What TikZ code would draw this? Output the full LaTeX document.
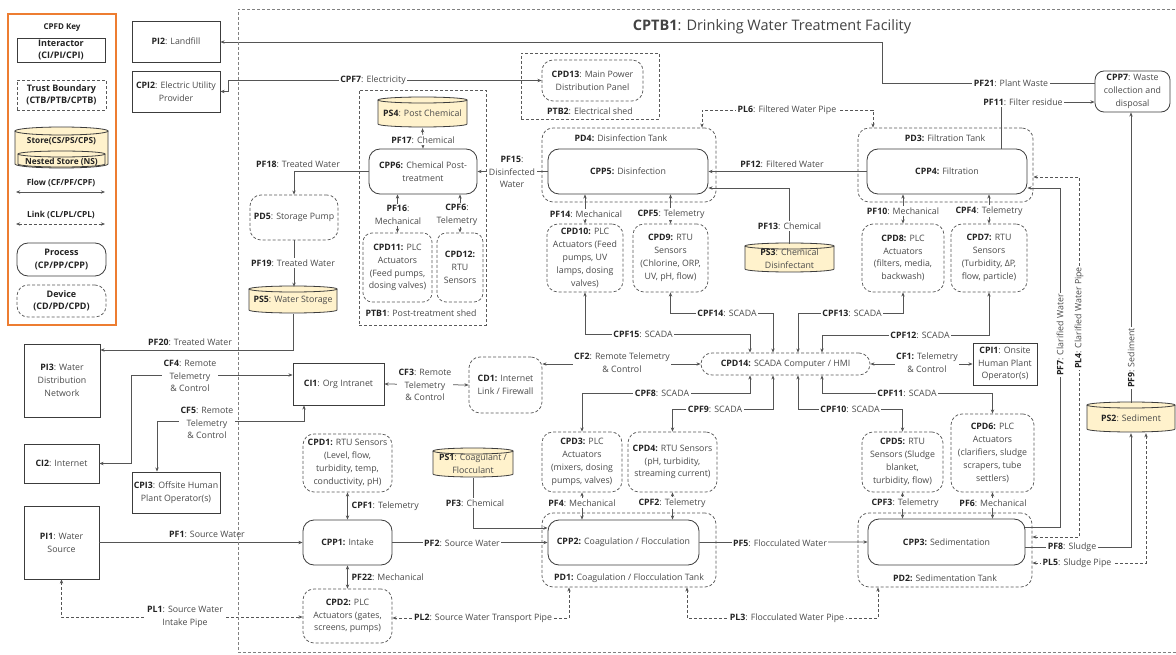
\documentclass[tikz,border=0pt]{standalone}
\usepackage{fontspec}
\setmainfont{Open Sans}
\usetikzlibrary{arrows.meta}
\definecolor{linec}{HTML}{555555}
\definecolor{boxc}{HTML}{3C3C3C}
\definecolor{devc}{HTML}{5A5A5A}
\definecolor{txtc}{HTML}{4A4A4A}
\definecolor{boldc}{HTML}{222222}
\definecolor{keyorange}{HTML}{ED7D31}
\definecolor{storefill}{HTML}{FFF2CC}
\newcommand{\idb}[1]{\textbf{\color{boldc}#1}}
\newcommand{\fsn}{\fontsize{8.8}{12.8}\selectfont}
\newcommand{\fsk}{\fontsize{9}{12.5}\selectfont\bfseries}
\newcommand{\mkstore}[6]{%
  \draw[draw=boxc, line width=0.8pt, fill=storefill] ({#2-#4/2},#3) -- ({#2-#4/2},#5) arc[start angle=180,end angle=0,x radius=#4/2,y radius=3] -- ({#2+#4/2},#3);
  \draw[draw=boxc, line width=0.8pt, fill=storefill] (#2,#3) ellipse[x radius=#4/2, y radius=3];
  \node[base, minimum width=#4, minimum height={#5-#3+6}] (#1) at (#2,{(#3+#5)/2+1}) {#6};
}
\begin{document}
\begin{tikzpicture}[x=1pt,y=-1pt,
  >={Stealth[length=4.2pt,width=3.4pt]},
  base/.style={font=\fsn, text=txtc, align=center, inner sep=0pt},
  inter/.style={base, draw=boxc, line width=0.8pt, rectangle},
  proc/.style={base, draw=boxc, line width=0.8pt, rounded corners=11pt},
  dev/.style={base, draw=devc, line width=0.75pt, dash pattern=on 3pt off 2pt, rounded corners=11pt},
  tbox/.style={draw=devc, line width=0.75pt, dash pattern=on 3pt off 2pt, inner sep=0pt},
  lbl/.style={font=\fsn, text=txtc, align=center, inner sep=1.5pt},
  lblw/.style={lbl, fill=white},
  flow/.style={draw=linec, line width=0.75pt},
  link/.style={flow, dash pattern=on 3pt off 2pt},
  keyt/.style={font=\fsk, text=boldc, align=center, inner sep=0pt}]
\useasboundingbox (0,0) rectangle (1176,655);
\fill[white] (0,0) rectangle (1176,655);
\clip (0,0) rectangle (1176,655);

% ---------- Key ----------
\node[draw=keyorange, line width=2.5pt, minimum width=108pt, minimum height=311pt, inner sep=0pt] (key) at (62,169.5) {};
\node[keyt, font=\fontsize{8}{10}\selectfont\bfseries] (keytitle) at (62,28) {CPFD Key};
\node[keyt, draw=boxc, line width=0.8pt, minimum width=88pt, minimum height=24pt] (kI) at (61,50) {Interactor\\(CI/PI/CPI)};
\node[keyt, tbox, minimum width=89pt, minimum height=30pt] (kT) at (61.5,95) {Trust Boundary\\(CTB/PTB/CPTB)};
\draw[draw=boxc, line width=0.8pt, fill=storefill] (15,131) -- (15,164) arc[start angle=180,end angle=0,x radius=46.5,y radius=4] -- (108,131);
\draw[draw=boxc, line width=0.8pt, fill=storefill] (61.5,131) ellipse[x radius=46.5, y radius=4];
\draw[draw=boxc, line width=0.8pt, fill=storefill] (18,154) -- (18,164) arc[start angle=180,end angle=0,x radius=43.5,y radius=3] -- (105,154);
\draw[draw=boxc, line width=0.8pt, fill=storefill] (61.5,154) ellipse[x radius=43.5, y radius=3];
\node[keyt, font=\fontsize{8.3}{10}\selectfont\bfseries] (kS) at (61.5,141) {Store(CS/PS/CPS)};
\node[keyt, font=\fontsize{8.3}{10}\selectfont\bfseries] (kNS) at (61.5,162) {Nested Store (NS)};
\node[keyt, font=\fontsize{8.3}{10}\selectfont\bfseries] (kF) at (61,183) {Flow (CF/PF/CPF)};
\coordinate (kf1) at (16,192);
\coordinate (kf2) at (105,192);
\draw[flow,<->] (kf1) -- (kf2);
\node[keyt, font=\fontsize{8.3}{10}\selectfont\bfseries] (kL) at (61,215) {Link (CL/PL/CPL)};
\coordinate (kl1) at (16,224);
\coordinate (kl2) at (105,224);
\draw[link,<->] (kl1) -- (kl2);
\node[keyt, draw=boxc, line width=0.8pt, rounded corners=11pt, minimum width=89pt, minimum height=33pt] (kP) at (61.5,259.5) {Process\\(CP/PP/CPP)};
\node[keyt, draw=devc, line width=0.75pt, dash pattern=on 3pt off 2pt, rounded corners=11pt, minimum width=89pt, minimum height=32pt] (kD) at (61.5,301) {Device\\(CD/PD/CPD)};

% ---------- Interactors ----------
\node[inter, minimum width=88pt, minimum height=41pt] (PI2) at (176,41.5) {\idb{PI2}: Landfill};
\node[inter, minimum width=88pt, minimum height=41pt] (CPI2) at (176,91.5) {\idb{CPI2}: Electric Utility\\Provider};
\node[inter, minimum width=76pt, minimum height=73pt] (PI3) at (62,380.5) {\idb{PI3}: Water\\Distribution\\Network};
\node[inter, minimum width=75pt, minimum height=39pt] (CI2) at (61.5,463.5) {\idb{CI2}: Internet};
\node[inter, minimum width=88pt, minimum height=41pt] (CPI3) at (176,492.5) {\idb{CPI3}: Offsite Human\\Plant Operator(s)};
\node[inter, minimum width=75pt, minimum height=73pt] (PI1) at (61.5,542.5) {\idb{PI1}: Water\\Source};
\node[inter, minimum width=91pt, minimum height=42pt] (CI1) at (338.5,384) {\idb{CI1}: Org Intranet};
\node[inter, minimum width=64pt, minimum height=42pt] (CPI1) at (1005,364) {\idb{CPI1}: Onsite\\Human Plant\\Operator(s)};

% ---------- Trust boundaries ----------
\node[tbox, minimum width=138pt, minimum height=66pt] (PTB2) at (590,86) {};
\node[tbox, minimum width=127pt, minimum height=235pt] (PTB1) at (422.5,207.5) {};
\node[lbl] (PTB2l) at (590,111) {\idb{PTB2}: Electrical shed};
\node[lbl] (PTB1l) at (421,313) {\idb{PTB1}: Post-treatment shed};

% ---------- Devices ----------
\node[dev, minimum width=174pt, minimum height=74pt] (PD4) at (629,165) {};
\node[dev, minimum width=175pt, minimum height=74pt] (PD3) at (945.5,165) {};
\node[dev, minimum width=174pt, minimum height=74pt] (PD1) at (629,550) {};
\node[dev, minimum width=174pt, minimum height=74pt] (PD2) at (945,550) {};
\node[lbl] (PD4l) at (621,138) {\idb{PD4:} Disinfection Tank};
\node[lbl] (PD3l) at (945,138) {\idb{PD3:} Filtration Tank};
\node[lbl] (PD1l) at (629,578) {\idb{PD1:} Coagulation / Flocculation Tank};
\node[lbl] (PD2l) at (945,578) {\idb{PD2:} Sedimentation Tank};
\node[dev, minimum width=101pt, minimum height=41pt] (CPD13) at (592.5,80.5) {\idb{CPD13}: Main Power\\Distribution Panel};
\node[dev, minimum width=88pt, minimum height=45pt] (PD5) at (294,217.5) {\idb{PD5}: Storage Pump};
\node[dev, rounded corners=9pt, minimum width=69pt, minimum height=69pt] (CPD11) at (397.5,267.5) {\idb{CPD11:} PLC\\Actuators\\(Feed pumps,\\dosing valves)};
\node[dev, rounded corners=9pt, minimum width=46pt, minimum height=69pt] (CPD12) at (460,267.5) {\idb{CPD12:}\\RTU\\Sensors};
\node[dev, minimum width=76pt, minimum height=68pt] (CPD10) at (585,258) {\idb{CPD10:} PLC\\Actuators (Feed\\pumps, UV\\lamps, dosing\\valves)};
\node[dev, minimum width=75pt, minimum height=68pt] (CPD9) at (670.5,258) {\idb{CPD9:} RTU\\Sensors\\(Chlorine, ORP,\\UV, pH, flow)};
\node[dev, minimum width=82pt, minimum height=68pt] (CPD8) at (903,258) {\idb{CPD8:} PLC\\Actuators\\(filters, media,\\backwash)};
\node[dev, minimum width=76pt, minimum height=68pt] (CPD7) at (989,258) {\idb{CPD7:} RTU\\Sensors\\(Turbidity, ΔP,\\flow, particle)};
\node[dev, minimum width=73pt, minimum height=56pt] (CD1) at (505.5,385) {\idb{CD1:} Internet\\Link / Firewall};
\node[dev, minimum width=169pt, minimum height=22pt] (CPD14) at (785.5,364) {\idb{CPD14:} SCADA Computer / HMI};
\node[dev, minimum width=89pt, minimum height=58pt] (CPD1) at (347.5,463) {\idb{CPD1:} RTU Sensors\\(Level, flow,\\turbidity, temp,\\conductivity, pH)};
\node[dev, minimum width=80pt, minimum height=60pt] (CPD3) at (582,462) {\idb{CPD3:} PLC\\Actuators\\(mixers, dosing\\pumps, valves)};
\node[dev, minimum width=89pt, minimum height=60pt] (CPD4) at (672.5,462) {\idb{CPD4:} RTU Sensors\\(pH, turbidity,\\streaming current)};
\node[dev, minimum width=81pt, minimum height=60pt] (CPD5) at (902.5,462) {\idb{CPD5:} RTU\\Sensors (Sludge\\blanket,\\turbidity, flow)};
\node[dev, minimum width=83pt, minimum height=78pt] (CPD6) at (992.5,453) {\idb{CPD6:} PLC\\Actuators\\(clarifiers, sludge\\scrapers, tube\\settlers)};
\node[dev, minimum width=89pt, minimum height=54pt] (CPD2) at (347.5,616) {\idb{CPD2:} PLC\\Actuators (gates,\\screens, pumps)};

% ---------- Processes ----------
\node[proc, fill=white, minimum width=108pt, minimum height=45pt] (CPP6) at (423,171.5) {\idb{CPP6:} Chemical Post-\\treatment};
\node[proc, fill=white, minimum width=160pt, minimum height=45pt] (CPP5) at (628,171.5) {\idb{CPP5:} Disinfection};
\node[proc, fill=white, minimum width=160pt, minimum height=45pt] (CPP4) at (947,171.5) {\idb{CPP4:} Filtration};
\node[proc, rounded corners=9pt, minimum width=75pt, minimum height=41pt] (CPP7) at (1132.5,91.5) {\idb{CPP7}: Waste\\collection and\\disposal};
\node[proc, fill=white, minimum width=89pt, minimum height=45pt] (CPP1) at (347.5,542.5) {\idb{CPP1:} Intake};
\node[proc, fill=white, minimum width=151pt, minimum height=45pt] (CPP2) at (623.5,542.5) {\idb{CPP2:} Coagulation / Flocculation};
\node[proc, fill=white, minimum width=157pt, minimum height=46pt] (CPP3) at (946.5,542) {\idb{CPP3:} Sedimentation};

% ---------- Stores ----------
\mkstore{PS4}{422.5}{100}{89}{124}{\idb{PS4}: Post Chemical}
\mkstore{PS5}{293}{289}{88}{310}{\idb{PS5}: Water Storage}
\mkstore{PS3}{789.5}{246}{89}{269}{\idb{PS3}: Chemical\\Disinfectant}
\mkstore{PS1}{473}{451}{80}{474}{\idb{PS1}: Coagulant /\\Flocculant}
\mkstore{PS2}{1131}{405}{88}{429}{\idb{PS2}: Sediment}

% ---------- Connectors ----------
\draw[flow,->] (CPP7.west |- 0,83) -- (882,83) -- (882,42) -- (PI2.east |- 0,42);
\draw[flow,<->] (CPI2.east) -- (228,91.5) -- (228,80.5) -- (CPD13.west);
\draw[flow,<->] (CPP6.north) -- (PS4.south);
\draw[flow,->] (CPP6.west) -| (PD5.north);
\draw[flow,->] (PD5.south) -- (PD5.south |- PS5.north);
\draw[flow,->] (PS5.south) -- (293,350) -- (PI3.east |- 0,350);
\draw[flow,->] (CPP5.west) -- (CPP6.east);
\draw[flow,<->] (CPD11.north) -- (CPD11.north |- CPP6.south);
\draw[flow,<->] (CPD12.north) -- (CPD12.north |- CPP6.south);
\draw[flow,<->] (CPD10.north) -- (CPD10.north |- CPP5.south);
\draw[flow,<->] (CPD9.north) -- (CPD9.north |- CPP5.south);
\draw[flow,<->] (CPD8.north) -- (CPD8.north |- CPP4.south);
\draw[flow,<->] (CPD7.north) -- (CPD7.north |- CPP4.south);
\draw[flow,->] (CPP4.west) -- (CPP5.east);
\draw[flow,->] (PS3.north) -- (789.5,188) -- (CPP5.east |- 0,188);
\draw[link,<->] (PD3.north -| 873,0) -- (873,110) -- (702,110) -- (PD4.north -| 702,0);
\draw[flow,->] (CPP4.north -| 1001,0) -- (1001,102) -- (CPP7.west |- 0,102);
\draw[flow,->] (PS2.north) -- (PS2.north |- CPP7.south);
\draw[flow,->] (CPP3.east |- 0,527) -- (1060,527) -- (1060,188) -- (CPP4.east |- 0,188);
\draw[link,<->] (PD2.east |- 0,537) -- (1079,537) -- (1079,177) -- (PD3.east |- 0,177);
\draw[flow,->] (CPP3.east |- 0,547) -- (1131,547) -- (PS2.south);
\draw[link,<->] (PD2.east |- 0,563) -- (1146,563) -- (PS2.south -| 1146,0);
\draw[flow,->] (CPP2.east) -- (CPP3.west);
\draw[flow,->] (CPP1.east) -- (CPP2.west);
\draw[flow,->] (PS1.south) -- (473,528) -- (CPP2.west |- 0,528);
\draw[flow,->] (PI1.east) -- (CPP1.west);
\draw[flow,<->] (CPD1.south) -- (CPP1.north);
\draw[flow,<->] (CPP1.south) -- (CPD2.north);
\draw[link,<->] (PI1.south) -- (61.5,617) -- (CPD2.west |- 0,617);
\draw[link,<->] (PD1.south -| 569,0) -- (569,618) -- (CPD2.east |- 0,618);
\draw[link,<->] (PD1.south -| 687,0) -- (687,618) -- (878,618) -- (PD2.south -| 878,0);
\draw[flow,<->] (CPD3.south) -- (CPD3.south |- CPP2.north);
\draw[flow,<->] (CPD4.south) -- (CPD4.south |- CPP2.north);
\draw[flow,<->] (CPD5.south) -- (CPD5.south |- CPP3.north);
\draw[flow,<->] (CPD6.south) -- (CPD6.south |- CPP3.north);
% SCADA
\draw[flow,<->] (CPD14.north -| 750,0) -- (750,334) -- (585,334) -- (CPD10.south);
\draw[flow,<->] (CPD14.north -| 773,0) -- (773,313) -- (670.5,313) -- (CPD9.south);
\draw[flow,<->] (CPD14.north -| 798,0) -- (798,313) -- (903,313) -- (CPD8.south);
\draw[flow,<->] (CPD14.north -| 822,0) -- (822,335) -- (989,335) -- (CPD7.south);
\draw[flow,<->] (CPD14.south -| 750,0) -- (750,393) -- (582,393) -- (CPD3.north);
\draw[flow,<->] (CPD14.south -| 773,0) -- (773,409) -- (672.5,409) -- (CPD4.north);
\draw[flow,<->] (CPD14.south -| 798,0) -- (798,409) -- (902.5,409) -- (CPD5.north);
\draw[flow,<->] (CPD14.south -| 822,0) -- (822,393) -- (992.5,393) -- (CPD6.north);
% control
\draw[flow,<->] (CPD14.east) -- (CPI1.west);
\draw[flow,<->] (CD1.east |- 0,364) -- (CPD14.west);
\draw[flow,<->] (CI1.east) -- (CD1.west);
\draw[flow,<->] (CI1.west |- 0,375) -- (131,375) -- (131,463.5) -- (CI2.east);
\draw[flow,<->] (CI1.south -| 304,0) -- (304,421) -- (157,421) -- (CPI3.north -| 157,0);

% ---------- Labels ----------
\node[lblw] (lPF21) at (1011,83) {\idb{PF21}: Plant Waste};
\node[lblw] (lCPF7) at (373,80) {\idb{CPF7}: Electricity};
\node[lblw] (lPF17) at (423,140) {\idb{PF17}: Chemical};
\node[lbl] (lPF18) at (298,164) {\idb{PF18}: Treated Water};
\node[lblw] (lPF19) at (293,263) {\idb{PF19}: Treated Water};
\node[lbl] (lPF20) at (190,342) {\idb{PF20}: Treated Water};
\node[lblw] (lPF15) at (512,172) {\idb{PF15}:\\Disinfected\\Water};
\node[lblw] (lPF16) at (398,215) {\idb{PF16}:\\Mechanical};
\node[lblw] (lCPF6) at (457,215) {\idb{CPF6}:\\Telemetry};
\node[lblw] (lPF14) at (586,214) {\idb{PF14}: Mechanical};
\node[lblw] (lCPF5) at (671,214) {\idb{CPF5}: Telemetry};
\node[lblw] (lPF10) at (903,211) {\idb{PF10}: Mechanical};
\node[lblw] (lCPF4) at (989,211) {\idb{CPF4}: Telemetry};
\node[lbl] (lPF12) at (782,164) {\idb{PF12}: Filtered Water};
\node[lblw] (lPF13) at (789.5,226) {\idb{PF13}: Chemical};
\node[lblw] (lPL6) at (787,110) {\idb{PL6}: Filtered Water Pipe};
\node[lblw] (lPF11) at (1023,102) {\idb{PF11}: Filter residue};
\node[lblw, rotate=90] (lPF9) at (1131,358) {\idb{PF9}: Sediment};
\node[lblw, rotate=90] (lPF7) at (1060,335) {\idb{PF7}: Clarified Water};
\node[lblw, rotate=90] (lPL4) at (1079,318) {\idb{PL4}: Clarified Water Pipe};
\node[lblw] (lPF8) at (1072,547) {\idb{PF8}: Sludge};
\node[lblw] (lPL5) at (1077,563) {\idb{PL5}: Sludge Pipe};
\node[lblw] (lPF5) at (780,543) {\idb{PF5}: Flocculated Water};
\node[lblw] (lPF2) at (462,543) {\idb{PF2}: Source Water};
\node[lblw] (lPF3) at (475,503) {\idb{PF3}: Chemical};
\node[lbl] (lPF1) at (207,534) {\idb{PF1}: Source Water};
\node[lbl, anchor=west] (lCPF1) at (350,506) {\idb{CPF1}: Telemetry};
\node[lbl, anchor=west] (lPF22) at (350,577) {\idb{PF22}: Mechanical};
\node[lblw] (lPL1) at (185,617) {\idb{PL1}: Source Water\\Intake Pipe};
\node[lblw] (lPL2) at (483,618) {\idb{PL2}: Source Water Transport Pipe};
\node[lblw] (lPL3) at (787,618) {\idb{PL3}: Flocculated Water Pipe};
\node[lblw] (lPF4) at (582,503) {\idb{PF4}: Mechanical};
\node[lblw] (lCPF2) at (672,503) {\idb{CPF2}: Telemetry};
\node[lblw] (lCPF3) at (905,503) {\idb{CPF3}: Telemetry};
\node[lblw] (lPF6) at (993,503) {\idb{PF6}: Mechanical};
\node[lblw] (lCPF15) at (643,334) {\idb{CPF15}: SCADA};
\node[lblw] (lCPF14) at (727,313) {\idb{CPF14}: SCADA};
\node[lblw] (lCPF13) at (852,313) {\idb{CPF13}: SCADA};
\node[lblw] (lCPF12) at (920,335) {\idb{CPF12}: SCADA};
\node[lblw] (lCPF8) at (662,393) {\idb{CPF8}: SCADA};
\node[lblw] (lCPF9) at (715,409) {\idb{CPF9}: SCADA};
\node[lblw] (lCPF10) at (850,409) {\idb{CPF10}: SCADA};
\node[lblw] (lCPF11) at (907,393) {\idb{CPF11}: SCADA};
\node[lblw] (lCF1) at (927,363) {\idb{CF1:} Telemetry\\\& Control};
\node[lblw] (lCF2) at (622,363) {\idb{CF2}: Remote Telemetry\\\& Control};
\node[lblw] (lCF3) at (425,385) {\idb{CF3}: Remote\\Telemetry\\\& Control};
\node[lblw] (lCF4) at (190,376) {\idb{CF4}: Remote\\Telemetry\\\& Control};
\node[lblw] (lCF5) at (207,423) {\idb{CF5}: Remote\\Telemetry\\\& Control};

% ---------- Facility boundary and title ----------
\node[draw=gray, line width=0.75pt, dash pattern=on 3pt off 2pt, inner sep=0pt, minimum width=952pt, minimum height=643pt] (CPTB1) at (714,330.5) {};
\node[font=\fontsize{14.5}{17}\selectfont, text=boldc!85, inner sep=0pt] (title) at (772,27) {\textbf{CPTB1}: Drinking Water Treatment Facility};
\end{tikzpicture}
\end{document}
